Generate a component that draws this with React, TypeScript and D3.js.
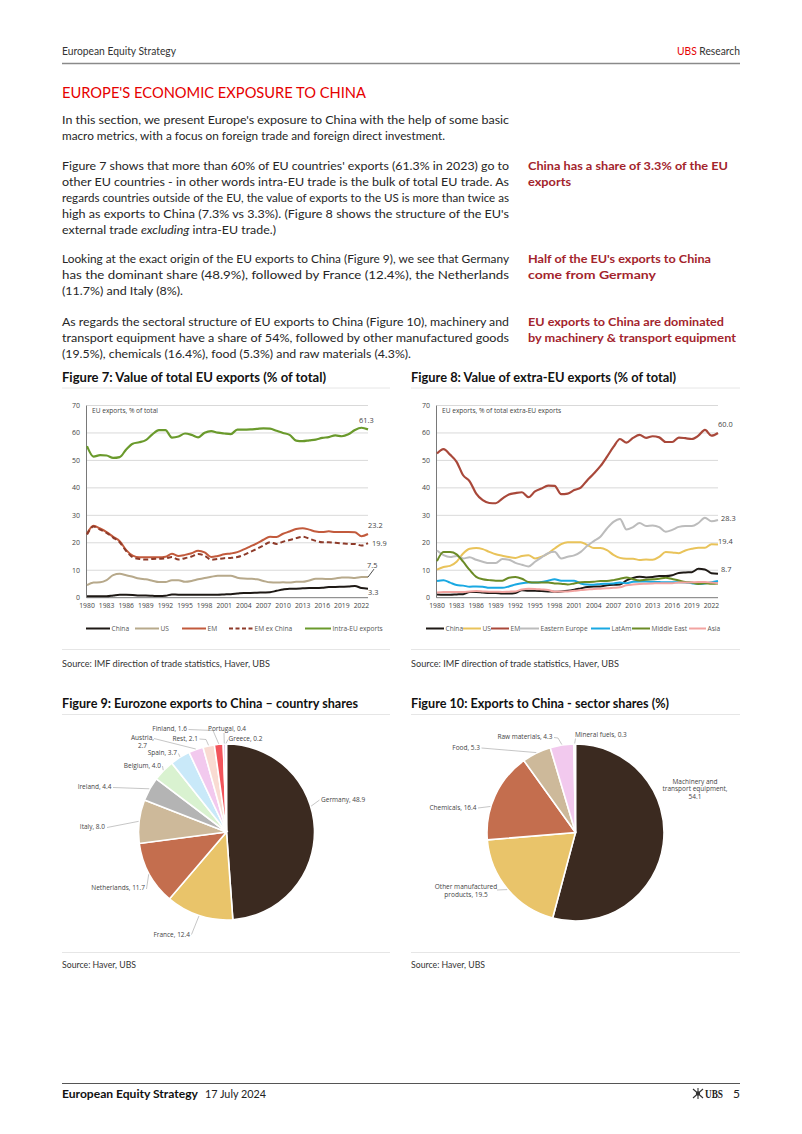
import React from "react";
import * as d3 from "d3";

// ---------------- DATA ----------------
const YEARS = [
  1980, 1981, 1982, 1983, 1984, 1985, 1986, 1987, 1988, 1989,
  1990, 1991, 1992, 1993, 1994, 1995, 1996, 1997, 1998, 1999,
  2000, 2001, 2002, 2003, 2004, 2005, 2006, 2007, 2008, 2009,
  2010, 2011, 2012, 2013, 2014, 2015, 2016, 2017, 2018, 2019,
  2020, 2021, 2022, 2023,
];
const X_TICKS = [1980, 1983, 1986, 1989, 1992, 1995, 1998, 2001, 2004, 2007, 2010, 2013, 2016, 2019, 2022];
const Y_TICKS = [0, 10, 20, 30, 40, 50, 60, 70];

// Figure 7: total EU exports (% of total)
const F7_CHINA = [0.5, 0.5, 0.5, 0.5, 0.8, 1.1, 1.1, 1.0, 0.8, 0.8, 0.7, 0.6, 0.7, 1.2, 1.1, 1.1, 1.1, 1.1, 1.1, 1.1, 1.1, 1.2, 1.3, 1.5, 1.7, 1.7, 1.8, 1.9, 2.0, 2.5, 3.0, 3.3, 3.3, 3.4, 3.5, 3.5, 3.6, 3.9, 3.9, 4.0, 4.1, 4.3, 3.5, 3.3];
const F7_US = [4.6, 5.5, 5.6, 6.4, 8.2, 8.7, 8.2, 7.6, 7.0, 6.7, 6.2, 5.7, 5.7, 6.4, 6.4, 5.8, 6.1, 6.7, 7.2, 7.6, 8.0, 8.0, 8.0, 7.3, 7.0, 6.9, 6.7, 6.1, 5.6, 5.5, 5.6, 5.5, 5.8, 5.8, 6.3, 6.9, 6.9, 6.8, 7.0, 7.4, 7.4, 7.2, 7.5, 7.5];
const F7_EM = [23.3, 26.2, 25.2, 23.9, 22.2, 20.6, 17.3, 15.3, 14.7, 14.7, 14.7, 14.7, 14.9, 16.0, 15.2, 15.6, 16.2, 17.1, 16.5, 14.8, 15.2, 15.8, 16.1, 16.6, 17.6, 18.7, 19.8, 21.1, 22.2, 22.1, 23.3, 24.1, 25.0, 25.3, 24.8, 24.1, 23.9, 24.2, 23.9, 23.9, 23.9, 23.8, 22.4, 23.2];
const F7_EM_EX_CHINA = [23.0, 25.9, 24.8, 23.6, 21.9, 20.2, 17.0, 14.7, 14.1, 13.9, 14.1, 14.2, 14.3, 14.8, 13.9, 14.4, 15.0, 15.9, 15.3, 13.8, 14.1, 14.4, 14.5, 14.8, 15.6, 16.7, 17.8, 19.0, 20.2, 19.6, 20.4, 21.0, 21.7, 22.2, 21.5, 20.7, 20.2, 20.2, 20.0, 19.8, 19.6, 19.6, 19.0, 19.9];
const F7_INTRA_EU = [55.2, 51.4, 51.9, 51.8, 50.9, 51.2, 54.0, 56.1, 56.6, 57.4, 59.5, 61.0, 61.0, 58.3, 58.7, 59.8, 59.3, 58.4, 60.1, 60.7, 60.1, 59.8, 59.6, 61.2, 61.2, 61.3, 61.5, 61.7, 61.6, 60.8, 60.0, 59.3, 57.2, 57.0, 57.3, 57.6, 58.2, 58.5, 59.1, 58.8, 59.5, 61.1, 61.9, 61.3];

// Figure 8: extra-EU exports (% of total)
const F8_CHINA = [1.2, 1.1, 1.1, 1.2, 1.3, 2.1, 2.1, 1.9, 1.7, 1.7, 1.5, 1.5, 1.7, 2.7, 2.5, 2.5, 2.4, 2.3, 2.2, 2.3, 2.5, 2.9, 3.4, 3.9, 4.1, 4.1, 4.5, 4.7, 4.8, 6.3, 7.2, 7.6, 7.4, 7.5, 7.9, 7.9, 8.2, 9.0, 9.2, 9.3, 10.5, 10.3, 8.9, 8.7];
const F8_US = [10.2, 11.2, 11.6, 13.1, 16.1, 17.8, 18.1, 17.7, 16.7, 15.8, 15.3, 14.8, 14.5, 15.2, 15.5, 14.3, 14.9, 16.1, 17.9, 19.5, 20.2, 20.2, 20.2, 19.2, 18.1, 18.1, 17.3, 15.6, 14.5, 14.2, 14.2, 13.7, 13.9, 13.8, 14.9, 16.6, 16.5, 16.2, 17.2, 17.8, 18.2, 18.2, 19.5, 19.4];
const F8_EM = [52.5, 54.1, 52.1, 49.5, 44.6, 42.4, 37.9, 35.5, 34.5, 34.4, 36.1, 37.6, 38.1, 38.4, 36.6, 38.7, 39.8, 40.8, 40.7, 37.7, 37.9, 39.2, 40.1, 42.8, 45.2, 47.9, 51.3, 54.9, 57.8, 56.5, 58.2, 59.3, 58.2, 58.8, 58.4, 56.7, 56.7, 58.3, 58.1, 57.8, 59.0, 61.1, 59.0, 60.0];
const F8_EASTERN_EUROPE = [17.2, 15.5, 14.8, 15.2, 14.3, 14.7, 13.8, 13.1, 12.6, 12.6, 14.1, 13.8, 12.7, 12.0, 11.4, 13.1, 14.7, 16.2, 16.7, 14.3, 14.9, 15.4, 16.7, 18.9, 20.6, 22.2, 25.2, 27.6, 28.7, 24.8, 25.7, 27.2, 26.1, 26.3, 25.7, 24.0, 24.7, 25.8, 26.1, 26.1, 27.2, 29.1, 27.8, 28.3];
const F8_LATAM = [6.1, 6.4, 5.5, 4.6, 4.4, 4.0, 4.1, 4.0, 3.6, 3.6, 3.6, 4.1, 4.8, 5.3, 5.5, 5.5, 5.7, 6.2, 6.7, 6.2, 6.2, 6.2, 5.2, 4.8, 4.7, 5.0, 5.1, 5.2, 5.5, 5.3, 5.8, 5.9, 5.9, 5.8, 5.7, 5.6, 5.6, 5.6, 5.5, 5.3, 5.0, 5.2, 5.6, 6.1];
const F8_MIDDLE_EAST = [13.3, 16.6, 16.6, 15.8, 13.1, 10.1, 7.6, 6.7, 6.4, 6.2, 6.2, 7.3, 7.5, 6.9, 5.7, 5.5, 5.5, 5.5, 5.2, 5.1, 4.8, 5.2, 5.6, 5.7, 5.8, 6.1, 6.1, 6.4, 6.9, 7.4, 6.7, 6.3, 6.5, 6.7, 6.9, 7.3, 6.8, 6.3, 5.7, 5.5, 5.0, 5.3, 5.1, 5.2];
const F8_ASIA = [1.9, 2.1, 2.1, 2.1, 2.1, 2.3, 2.4, 2.3, 2.2, 2.2, 2.1, 2.2, 2.3, 3.0, 3.3, 3.2, 3.0, 2.8, 2.2, 2.3, 2.3, 2.5, 2.8, 3.0, 3.2, 3.3, 3.4, 3.6, 3.8, 4.5, 4.8, 5.0, 5.1, 5.2, 5.3, 5.3, 5.3, 5.5, 5.5, 5.6, 5.7, 5.7, 5.5, 5.3];

// Figure 9: Eurozone exports to China - country shares
const F9_NAMES = ["Germany", "France", "Netherlands", "Italy", "Ireland", "Belgium", "Spain", "Austria", "Rest", "Finland", "Portugal", "Greece"];
const F9_VALUES = [48.9, 12.4, 11.7, 8.0, 4.4, 4.0, 3.7, 2.7, 2.1, 1.6, 0.4, 0.2];

// Figure 10: Exports to China - sector shares
const F10_NAMES = ["Machinery and transport equipment", "Other manufactured products", "Chemicals", "Food", "Raw materials", "Mineral fuels"];
const F10_VALUES = [54.1, 19.5, 16.4, 5.3, 4.3, 0.3];

// ---------------- STYLE / LAYOUT ----------------
const BODY = "Lato, 'Open Sans', sans-serif";
const CHART = "'Open Sans', 'Noto Sans', sans-serif";
const RED = "#e60000";
const SIDE_RED = "#a3242c";
const TEXT = "#262626";

const F9_COLORS = ["#3b2a20", "#e9c46a", "#c46e4e", "#cdb99a", "#b4b4b4", "#d9f2d0", "#c9e9f9", "#f2c9ee", "#f9dbd2", "#f2545b", "#c86ab8", "#a0a0d0"];
const F10_COLORS = ["#3b2a20", "#e9c46a", "#c46e4e", "#cdb99a", "#f2c9ee", "#b4b4b4"];

type Series = { name: string; values: number[]; color: string; dash?: string; width: number };

const F7_SERIES: Series[] = [
  { name: "China", values: F7_CHINA, color: "#1e1915", width: 2 },
  { name: "US", values: F7_US, color: "#b7a98b", width: 2 },
  { name: "EM", values: F7_EM, color: "#c25a3c", width: 2 },
  { name: "EM ex China", values: F7_EM_EX_CHINA, color: "#8e3b2a", dash: "5,3", width: 2 },
  { name: "Intra-EU exports", values: F7_INTRA_EU, color: "#6a9a2c", width: 2.2 },
];
const F8_SERIES: Series[] = [
  { name: "China", values: F8_CHINA, color: "#1e1915", width: 2 },
  { name: "US", values: F8_US, color: "#e9c35a", width: 2 },
  { name: "EM", values: F8_EM, color: "#a9483a", width: 2.2 },
  { name: "Eastern Europe", values: F8_EASTERN_EUROPE, color: "#bcbcbc", width: 2 },
  { name: "LatAm", values: F8_LATAM, color: "#19a8e2", width: 2 },
  { name: "Middle East", values: F8_MIDDLE_EAST, color: "#6b8b26", width: 2 },
  { name: "Asia", values: F8_ASIA, color: "#f2a3a0", width: 2 },
];

// end labels: series index, offset from the last point
const F7_END = [
  { s: 4, dx: -9, dy: -9, lead: false },
  { s: 2, dx: 0, dy: -8.5, lead: false },
  { s: 3, dx: 4, dy: 0, lead: false },
  { s: 1, dx: -1, dy: -12, lead: true },
  { s: 0, dx: 0, dy: 4, lead: false },
];
const F8_END = [
  { s: 2, dx: 0, dy: -8.5, lead: false },
  { s: 3, dx: 3, dy: -1.5, lead: false },
  { s: 1, dx: 0, dy: -3, lead: false },
  { s: 0, dx: 3, dy: -4, lead: false },
];

const F7_LEGEND = [
  { s: 0, x: 86, w: 24 },
  { s: 1, x: 135, w: 24 },
  { s: 2, x: 182, w: 24 },
  { s: 3, x: 229, w: 24 },
  { s: 4, x: 305, w: 26 },
];
const F8_LEGEND = [
  { s: 0, x: 426, w: 18 },
  { s: 1, x: 463, w: 18 },
  { s: 2, x: 491, w: 18 },
  { s: 3, x: 520, w: 19 },
  { s: 4, x: 591, w: 19 },
  { s: 5, x: 632, w: 18 },
  { s: 6, x: 689, w: 17 },
];

type PieLabel = { i: number; lines?: string[]; x: number; y: number; anchor: "start" | "end" | "middle"; lead?: number[][]; angle?: number; gap?: number };

const F9_LAYOUT: PieLabel[] = [
  { i: 0, x: 321, y: 801.5, anchor: "start", lead: [[319.5, 800]], angle: 73 },
  { i: 1, x: 190, y: 936.5, anchor: "end", lead: [[191.5, 934.5]] },
  { i: 2, x: 145, y: 890, anchor: "end", lead: [[146.5, 889]] },
  { i: 3, x: 105, y: 829, anchor: "end", lead: [[107, 827.5]] },
  { i: 4, x: 111.5, y: 789, anchor: "end", lead: [[113, 787.5]] },
  { i: 5, x: 161, y: 767.5, anchor: "end", lead: [[162.5, 766]] },
  { i: 6, x: 177, y: 755, anchor: "end", lead: [[178.5, 753.5]] },
  { i: 7, lines: ["Austria,", "2.7"], x: 142.5, y: 739.5, anchor: "middle", lead: [[154, 738.5]], gap: 8 },
  { i: 8, x: 198, y: 740.5, anchor: "end", lead: [[199.5, 739], [206, 739.5]] },
  { i: 9, x: 187, y: 730.5, anchor: "end", lead: [[188.5, 729.5], [213, 730.5]] },
  { i: 10, x: 208, y: 730.5, anchor: "start", lead: [[224, 733]] },
  { i: 11, x: 228.5, y: 740.5, anchor: "start", lead: [[228, 739.5]] },
];
const F10_LAYOUT: PieLabel[] = [
  { i: 0, lines: ["Machinery and", "transport equipment,", "54.1"], x: 695, y: 783.5, anchor: "middle" },
  { i: 1, lines: ["Other manufactured", "products, 19.5"], x: 466, y: 889, anchor: "middle", lead: [[497, 890]] },
  { i: 2, x: 476.5, y: 809.5, anchor: "end", lead: [[478, 808]], angle: 287 },
  { i: 3, x: 480, y: 749.5, anchor: "end", lead: [[481.5, 748]] },
  { i: 4, x: 552.5, y: 739, anchor: "end", lead: [[554, 737.5], [558, 738]] },
  { i: 5, x: 575, y: 736.5, anchor: "start", lead: [[575.5, 738.5]] },
];

// body text lines (text, baseline y, width)
const BODY_LINES: { parts: { t: string; it?: boolean }[]; y: number; w: number }[] = [
  { parts: [{ t: "In this section, we present Europe's exposure to China with the help of some basic" }], y: 124, w: 447 },
  { parts: [{ t: "macro metrics, with a focus on foreign trade and foreign direct investment." }], y: 140, w: 383 },
  { parts: [{ t: "Figure 7 shows that more than 60% of EU countries' exports (61.3% in 2023) go to" }], y: 170, w: 447 },
  { parts: [{ t: "other EU countries - in other words intra-EU trade is the bulk of total EU trade. As" }], y: 186, w: 447 },
  { parts: [{ t: "regards countries outside of the EU, the value of exports to the US is more than twice as" }], y: 202, w: 447 },
  { parts: [{ t: "high as exports to China (7.3% vs 3.3%). (Figure 8 shows the structure of the EU's" }], y: 218, w: 447 },
  { parts: [{ t: "external trade " }, { t: "excluding", it: true }, { t: " intra-EU trade.)" }], y: 233.5, w: 214 },
  { parts: [{ t: "Looking at the exact origin of the EU exports to China (Figure 9), we see that Germany" }], y: 263, w: 447 },
  { parts: [{ t: "has the dominant share (48.9%), followed by France (12.4%), the Netherlands" }], y: 279, w: 447 },
  { parts: [{ t: "(11.7%) and Italy (8%)." }], y: 295, w: 121 },
  { parts: [{ t: "As regards the sectoral structure of EU exports to China (Figure 10), machinery and" }], y: 326, w: 447 },
  { parts: [{ t: "transport equipment have a share of 54%, followed by other manufactured goods" }], y: 342, w: 447 },
  { parts: [{ t: "(19.5%), chemicals (16.4%), food (5.3%) and raw materials (4.3%)." }], y: 357.5, w: 349 },
];
const SIDE_LINES = [
  { t: "China has a share of 3.3% of the EU", y: 170, w: 200 },
  { t: "exports", y: 186, w: 43 },
  { t: "Half of the EU's exports to China", y: 263, w: 183 },
  { t: "come from Germany", y: 279, w: 128 },
  { t: "EU exports to China are dominated", y: 326, w: 196 },
  { t: "by machinery & transport equipment", y: 341.5, w: 208 },
];

// ---------------- COMPONENTS ----------------
function LineChart({ left, right, top, bottom, series, note, ends, legend, legendY }: any) {
  const xs = d3.scaleLinear().domain([YEARS[0], YEARS[YEARS.length - 1]]).range([left, right]);
  const ys = d3.scaleLinear().domain([0, 70]).range([bottom, top]);
  const line = d3
    .line<number>()
    .x((_d, i) => xs(YEARS[i]))
    .y((d) => ys(d))
    .curve(d3.curveMonotoneX);
  const last = YEARS.length - 1;
  return (
    <g fontFamily={CHART}>
      {Y_TICKS.filter((t) => t > 0).map((t) => (
        <line key={t} x1={left} x2={right} y1={ys(t)} y2={ys(t)} stroke="#cfcfcf" strokeWidth={0.8} />
      ))}
      <line x1={left - 0.5} x2={left - 0.5} y1={top} y2={bottom} stroke="#6a6a6a" strokeWidth={0.9} />
      <line x1={left - 0.5} x2={right} y1={bottom} y2={bottom} stroke="#6a6a6a" strokeWidth={0.9} />
      {Y_TICKS.map((t) => (
        <text key={t} x={left - 7} y={ys(t) + 2.5} fontSize={7} textAnchor="end" fill="#444">
          {t}
        </text>
      ))}
      {X_TICKS.map((t) => (
        <text key={t} x={xs(t)} y={bottom + 10.5} fontSize={6.8} textAnchor="middle" fill="#444">
          {t}
        </text>
      ))}
      <text x={left + 5} y={top + 7.5} fontSize={6.6} fill="#444">
        {note}
      </text>
      {series.map((s: Series) => (
        <path
          key={s.name}
          d={line(s.values) || ""}
          fill="none"
          stroke={s.color}
          strokeWidth={s.width}
          strokeDasharray={s.dash}
          strokeLinejoin="round"
        />
      ))}
      {ends.map((e: any) => {
        const s: Series = series[e.s];
        const v = s.values[last];
        const px = xs(YEARS[last]);
        const py = ys(v);
        return (
          <g key={e.s}>
            {e.lead && <line x1={px} y1={py} x2={px + 6} y2={py + e.dy + 4} stroke="#222" strokeWidth={0.8} />}
            <text x={px + e.dx} y={py + e.dy + 2.5} fontSize={7.4} fill="#444">
              {v.toFixed(1)}
            </text>
          </g>
        );
      })}
      {legend.map((l: any) => {
        const s: Series = series[l.s];
        return (
          <g key={l.s}>
            <line x1={l.x} x2={l.x + l.w} y1={legendY} y2={legendY} stroke={s.color} strokeWidth={2} strokeDasharray={s.dash ? "4,2.5" : undefined} />
            <text x={l.x + l.w + 1.5} y={legendY + 2.3} fontSize={6.6} fill="#555">
              {s.name}
            </text>
          </g>
        );
      })}
    </g>
  );
}

function Pie({ cx, cy, r, names, values, colors, layout }: any) {
  const arcs = d3.pie<number>().sort(null).value((d) => d)(values);
  const arcGen = d3.arc<d3.PieArcDatum<number>>().innerRadius(0).outerRadius(r);
  return (
    <g fontFamily={CHART}>
      <g transform={`translate(${cx},${cy})`}>
        {arcs.map((a, i) => (
          <path key={i} d={arcGen(a) || ""} fill={colors[i]} stroke="#fff" strokeWidth={1.6} />
        ))}
      </g>
      {layout.map((L: PieLabel) => {
        const a = arcs[L.i];
        const ang = L.angle !== undefined ? (L.angle * Math.PI) / 180 : (a.startAngle + a.endAngle) / 2;
        const ex = cx + (r + 0.5) * Math.sin(ang);
        const ey = cy - (r + 0.5) * Math.cos(ang);
        const lines = L.lines || [`${names[L.i]}, ${values[L.i].toFixed(1)}`];
        const pts = L.lead ? [...L.lead, [ex, ey]] : null;
        const gap = L.gap || 7.6;
        return (
          <g key={L.i}>
            {pts && <polyline points={pts.map((p) => p.join(",")).join(" ")} fill="none" stroke="#a0a0a0" strokeWidth={0.6} />}
            {lines.map((t, k) => (
              <text key={k} x={L.x} y={L.y + k * gap} fontSize={6.5} textAnchor={L.anchor} fill="#444">
                {t}
              </text>
            ))}
          </g>
        );
      })}
    </g>
  );
}

function FigTitle({ x, y, w, text }: any) {
  return (
    <text x={x} y={y} fontFamily={BODY} fontWeight={700} fontSize={12.5} fill="#111" textLength={w} lengthAdjust="spacingAndGlyphs">
      {text}
    </text>
  );
}

export default function App() {
  return (
    <svg width={802} height={1134} viewBox="0 0 802 1134" style={{ position: "absolute", left: 0, top: 0, background: "#fff" }}>
      <rect width={802} height={1134} fill="#fff" />
      {/* header */}
      <text x={62} y={55} fontFamily={BODY} fontSize={11} fill="#333" textLength={114} lengthAdjust="spacingAndGlyphs">
        European Equity Strategy
      </text>
      <text x={740} y={55} fontFamily={BODY} fontSize={11} fill="#333" textAnchor="end" textLength={63} lengthAdjust="spacingAndGlyphs">
        <tspan fill={RED}>UBS</tspan> Research
      </text>
      <line x1={62} x2={740} y1={63.5} y2={63.5} stroke="#8a8a8a" strokeWidth={1.6} />
      <text x={62} y={97.5} fontFamily={BODY} fontSize={16} fill={RED} textLength={304} lengthAdjust="spacingAndGlyphs">
        EUROPE'S ECONOMIC EXPOSURE TO CHINA
      </text>

      {/* body */}
      {BODY_LINES.map((l, i) => (
        <text key={i} x={62} y={l.y} fontFamily={BODY} fontSize={12} fill={TEXT} textLength={l.w} lengthAdjust="spacingAndGlyphs">
          {l.parts.map((p, k) => (
            <tspan key={k} fontStyle={p.it ? "italic" : undefined}>
              {p.t}
            </tspan>
          ))}
        </text>
      ))}
      {SIDE_LINES.map((l, i) => (
        <text key={i} x={528} y={l.y} fontFamily={BODY} fontWeight={700} fontSize={12} fill={SIDE_RED} textLength={l.w} lengthAdjust="spacingAndGlyphs">
          {l.t}
        </text>
      ))}

      {/* figure 7 & 8 */}
      <FigTitle x={62} y={381.5} w={264} text="Figure 7: Value of total EU exports (% of total)" />
      <FigTitle x={411} y={381.5} w={265} text="Figure 8: Value of extra-EU exports (% of total)" />
      <line x1={62} x2={390} y1={388} y2={388} stroke="#e6e6e6" strokeWidth={1} />
      <line x1={411} x2={740} y1={388} y2={388} stroke="#e6e6e6" strokeWidth={1} />
      <LineChart left={87} right={368} top={405.5} bottom={597.7} series={F7_SERIES} note="EU exports, % of total" ends={F7_END} legend={F7_LEGEND} legendY={628.5} />
      <LineChart left={437} right={718} top={405.5} bottom={597.7} series={F8_SERIES} note="EU exports, % of total extra-EU exports" ends={F8_END} legend={F8_LEGEND} legendY={628.5} />
      <line x1={62} x2={390} y1={649.5} y2={649.5} stroke="#e6e6e6" strokeWidth={1} />
      <line x1={411} x2={740} y1={649.5} y2={649.5} stroke="#e6e6e6" strokeWidth={1} />
      <text x={62} y={666.5} fontFamily={BODY} fontSize={9.5} fill="#333" textLength={208} lengthAdjust="spacingAndGlyphs">
        Source: IMF direction of trade statistics, Haver, UBS
      </text>
      <text x={411} y={666.5} fontFamily={BODY} fontSize={9.5} fill="#333" textLength={208} lengthAdjust="spacingAndGlyphs">
        Source: IMF direction of trade statistics, Haver, UBS
      </text>

      {/* figure 9 & 10 */}
      <FigTitle x={62} y={707.5} w={296} text="Figure 9: Eurozone exports to China – country shares" />
      <FigTitle x={411} y={707.5} w={258} text="Figure 10: Exports to China - sector shares (%)" />
      <line x1={62} x2={390} y1={714.5} y2={714.5} stroke="#e6e6e6" strokeWidth={1} />
      <line x1={411} x2={740} y1={714.5} y2={714.5} stroke="#e6e6e6" strokeWidth={1} />
      <Pie cx={226.5} cy={832} r={88} names={F9_NAMES} values={F9_VALUES} colors={F9_COLORS} layout={F9_LAYOUT} />
      <Pie cx={575.5} cy={832.5} r={88.5} names={F10_NAMES} values={F10_VALUES} colors={F10_COLORS} layout={F10_LAYOUT} />
      <line x1={62} x2={390} y1={952.5} y2={952.5} stroke="#e6e6e6" strokeWidth={1} />
      <line x1={411} x2={740} y1={952.5} y2={952.5} stroke="#e6e6e6" strokeWidth={1} />
      <text x={62} y={967.5} fontFamily={BODY} fontSize={9.5} fill="#333" textLength={74} lengthAdjust="spacingAndGlyphs">
        Source: Haver, UBS
      </text>
      <text x={411} y={967.5} fontFamily={BODY} fontSize={9.5} fill="#333" textLength={74} lengthAdjust="spacingAndGlyphs">
        Source: Haver, UBS
      </text>

      {/* footer */}
      <line x1={62} x2={740} y1={1083.5} y2={1083.5} stroke="#555" strokeWidth={1} />
      <text x={62} y={1098} fontFamily={BODY} fontWeight={700} fontSize={12} fill="#111" textLength={136} lengthAdjust="spacingAndGlyphs">
        European Equity Strategy
      </text>
      <text x={205} y={1098} fontFamily={BODY} fontSize={12} fill="#222" textLength={61} lengthAdjust="spacingAndGlyphs">
        17 July 2024
      </text>
      <g stroke="#333" strokeWidth={1.1} fill="none">
        <line x1={693} y1={1089} x2={703} y2={1098} />
        <line x1={703} y1={1089} x2={693} y2={1098} />
        <line x1={698} y1={1088} x2={698} y2={1099} />
        <circle cx={698} cy={1093.5} r={1.6} fill="#333" />
      </g>
      <text x={705} y={1098} fontFamily="'Liberation Serif', serif" fontWeight={700} fontSize={12} fill="#222" textLength={18} lengthAdjust="spacingAndGlyphs">
        UBS
      </text>
      <text x={740} y={1098} fontFamily={BODY} fontSize={12} fill="#222" textAnchor="end">
        5
      </text>
    </svg>
  );
}
